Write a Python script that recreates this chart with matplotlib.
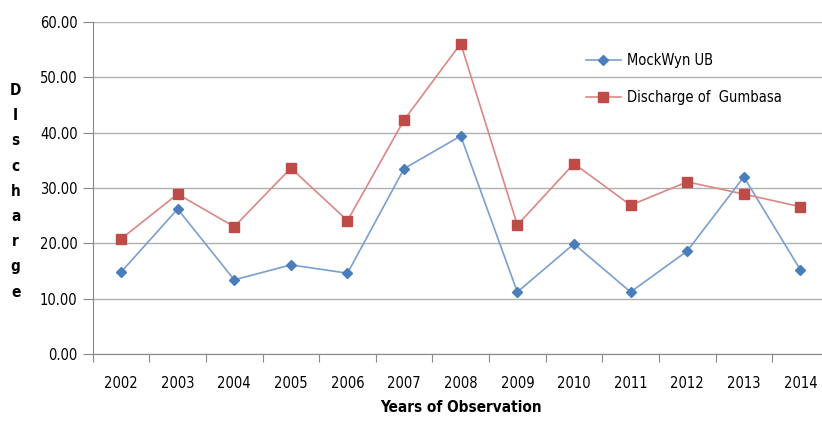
import matplotlib.pyplot as plt

plt.rcParams['font.family'] = ['DejaVu Sans']
plt.rcParams['font.stretch'] = 'condensed'

years = ["2002", "2003", "2004", "2005", "2006", "2007", "2008",
         "2009", "2010", "2011", "2012", "2013", "2014"]
mockwyn = [14.8, 26.2, 13.4, 16.1, 14.6, 33.5, 39.4, 11.2, 19.9, 11.2, 18.6, 32.0, 15.2]
gumbasa = [20.8, 28.9, 23.0, 33.6, 24.1, 42.3, 56.1, 23.3, 34.4, 26.9, 31.1, 28.9, 26.6]

fig = plt.figure(figsize=(8.22, 4.25), dpi=100)
ax = fig.add_axes([0.1128, 0.1671, 0.8954, 0.7812])

x = list(range(len(years)))
ax.plot(x, mockwyn, color="#7a9fd0", lw=1.2, marker="D", ms=5.5,
        mfc="#4a7ebb", mec="#4a7ebb", label="MockWyn UB")
ax.plot(x, gumbasa, color="#d98886", lw=1.2, marker="s", ms=7.5,
        mfc="#be4b48", mec="#be4b48", label="Discharge of  Gumbasa")

ax.set_xlim(-0.5, len(years) - 0.5)
ax.set_ylim(0, 60)
ax.set_yticks(range(0, 61, 10))
ax.set_yticklabels([f"{v:.2f}" for v in range(0, 61, 10)])
ax.yaxis.grid(True, color="#b0b0b0", lw=1)
ax.set_axisbelow(True)

# category axis: ticks between years, labels centred on each year
ax.set_xticks([i + 0.5 for i in range(-1, len(years))], minor=False)
ax.set_xticklabels([])
ax.set_xticks(x, minor=True)
ax.set_xticklabels(years, minor=True)
ax.tick_params(axis="x", which="major", length=6, color="#888888", direction="out")
ax.tick_params(axis="x", which="minor", length=0, pad=16, labelsize=10.5)
ax.tick_params(axis="y", length=7, color="#888888", labelsize=10.5, pad=4)

for s in ["top", "right"]:
    ax.spines[s].set_visible(False)
for s in ["left", "bottom"]:
    ax.spines[s].set_color("#888888")

ax.set_xlabel("Years of Observation", fontsize=11, fontweight="bold", labelpad=6)
fig.text(0.019, 0.55, "D\nI\ns\nc\nh\na\nr\ng\ne", fontsize=11, fontweight="bold",
         ha="center", va="center", linespacing=1.85)

ax.legend(loc="upper left", bbox_to_anchor=(0.652, 0.946), frameon=False,
          fontsize=10.5, labelspacing=1.5, handlelength=2.4, handletextpad=0.4)

fig.savefig("out.png", dpi=100)
